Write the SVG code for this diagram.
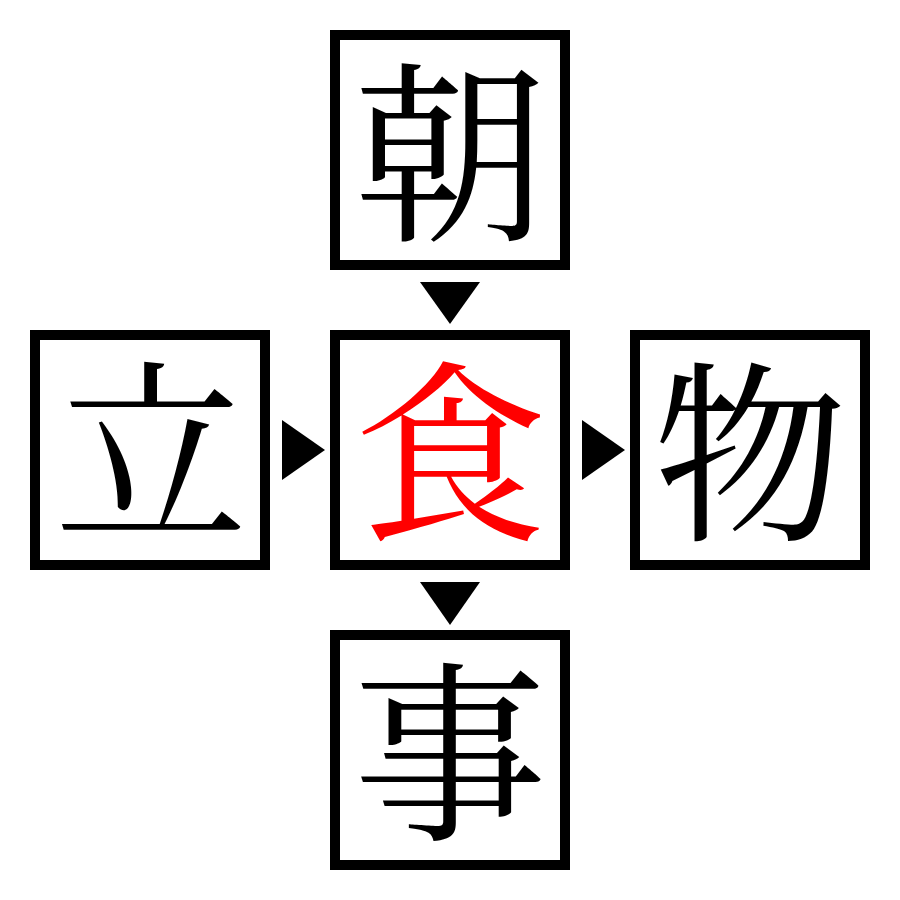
<svg xmlns="http://www.w3.org/2000/svg" width="900" height="900" viewBox="0 0 900 900">
<style>
.box{fill:#fff;stroke:#000;stroke-width:10}
.ch{font-family:"Noto Serif CJK JP","Noto Sans CJK JP",serif;font-size:194px;text-anchor:middle;dominant-baseline:central}
.arr{fill:#000}
</style>
<rect width="900" height="900" fill="#fff"/>
<g id="top"><rect class="box" x="335" y="35" width="230" height="230"/><text class="ch" x="450" y="142">朝</text></g>
<g id="left"><rect class="box" x="35" y="335" width="230" height="230"/><text class="ch" x="151" y="440">立</text></g>
<g id="center"><rect class="box" x="335" y="335" width="230" height="230"/><text class="ch" x="450" y="442" fill="#f00">食</text></g>
<g id="right"><rect class="box" x="635" y="335" width="230" height="230"/><text class="ch" x="750" y="442">物</text></g>
<g id="bottom"><rect class="box" x="335" y="635" width="230" height="230"/><text class="ch" x="450" y="742">事</text></g>
<g id="connectors">
<polygon class="arr" points="420,282 480,282 450,324"/>
<polygon class="arr" points="282,420 282,480 325,450"/>
<polygon class="arr" points="582,420 582,480 625,450"/>
<polygon class="arr" points="420,582 480,582 450,625"/>
</g>
</svg>
